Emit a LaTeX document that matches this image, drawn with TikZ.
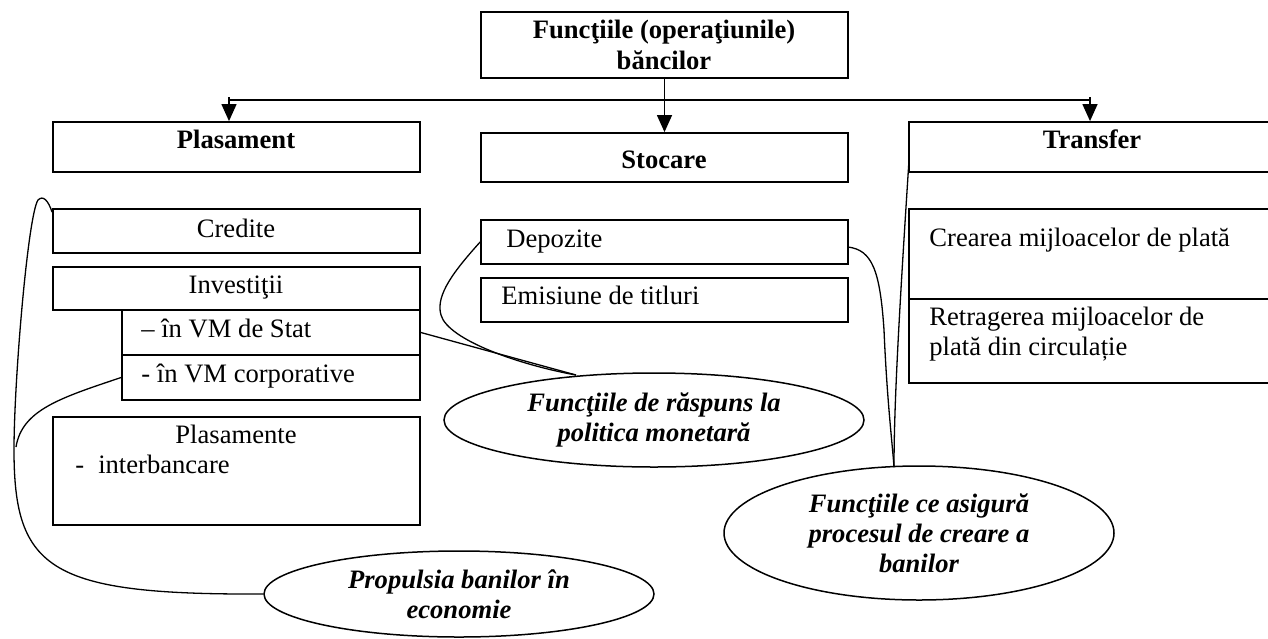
\documentclass[tikz,border=0pt]{standalone}
\usepackage{fontspec}
\setmainfont{Liberation Serif}
\usetikzlibrary{arrows.meta,fit,shapes.geometric}
\begin{document}
\begin{tikzpicture}[x=0.5pt,y=-0.5pt,
  box/.style={draw, line width=0.9pt, inner sep=0pt},
  conn/.style={line width=0.65pt},
  arr/.style={line width=0.65pt, -{Triangle[width=7.5pt,length=8.5pt]}},
  txt/.style={anchor=base, inner sep=0pt, font=\fontsize{13.3}{15}\selectfont},
  ltxt/.style={anchor=base west, inner sep=0pt, font=\fontsize{13.3}{15}\selectfont},
  btxt/.style={anchor=base, inner sep=0pt, font=\fontsize{13.3}{15}\selectfont\bfseries},
  bub/.style={draw, ellipse, line width=0.75pt, inner sep=0pt, align=center,
              font=\fontsize{13.3}{15}\selectfont\bfseries\itshape}]
\useasboundingbox (0,0) rectangle (1268,638);
% boxes
\node[box, fit={(481,12)(848,78)}] (top) {};
\node[btxt] (topt1) at (664,38) {Funcţiile (operaţiunile)};
\node[btxt] (topt2) at (664,69) {băncilor};
\node[box, fit={(53,122)(420,172)}] (plas) {};
\node[btxt] (plast) at (236,148) {Plasament};
\node[box, fit={(481,133)(848,182)}] (sto) {};
\node[btxt] (stot) at (664,168) {Stocare};
\node[box, fit={(909,122)(1290,172)}] (trh) {};
\node[btxt] (trht) at (1092,148) {Transfer};
% Plasament column
\node[box, fit={(53,209)(420,253)}] (cred) {};
\node[txt] (credt) at (236,237) {Credite};
\node[box, fit={(53,267)(420,310)}] (inv) {};
\node[txt] (invt) at (236,293) {Investiţii};
\node[box, fit={(122,310)(420,355)}] (vms) {};
\node[ltxt] (vmst) at (141,337) {– în VM de Stat};
\node[box, fit={(122,355)(420,400)}] (vmc) {};
\node[ltxt] (vmct) at (141,382) {- în VM corporative};
\node[box, fit={(53,417)(420,525)}] (plm) {};
\node[txt] (plmt) at (236,443) {Plasamente};
\node[ltxt] (plmt2) at (75,473) {-\hspace{7pt}interbancare};
% Stocare column
\node[box, fit={(481,220)(848,264)}] (dep) {};
\node[ltxt] (dept) at (506,247) {Depozite};
\node[box, fit={(481,278)(848,322)}] (emi) {};
\node[ltxt] (emit) at (501,304) {Emisiune de titluri};
% Transfer column
\node[box, fit={(909,209)(1290,299)}] (cre) {};
\node[ltxt] (cret) at (929,246) {Crearea mijloacelor de plată};
\node[box, fit={(909,299)(1290,383)}] (ret) {};
\node[ltxt] (rett1) at (929,325) {Retragerea mijloacelor de};
\node[ltxt] (rett2) at (929,355) {plată din circulație};
% ellipses
\node[bub, minimum width=210pt, minimum height=47pt] (e1) at (654,420) {Funcţiile de răspuns la\\politica monetară};
\node[bub, minimum width=195pt, minimum height=67pt] (e2) at (919,533) {Funcţiile ce asigură\\procesul de creare a\\banilor};
\node[bub, minimum width=195pt, minimum height=43pt] (e3) at (459,594) {Propulsia banilor în\\economie};
% arrows
\coordinate (bl) at (229,97);
\coordinate (br) at (1090,97);
\coordinate (bbl) at (229,100);
\coordinate (bbr) at (1090,100);
\draw[conn] (bbl) -- (bbr);
\draw[arr] (top.south) -- (sto.north);
\draw[arr] (bl) -- (bl |- plas.north);
\draw[arr] (br) -- (br |- trh.north);
% connector curves
\coordinate (j1) at (576,375);
\coordinate (j2) at (894,467);
\coordinate (j3) at (16,447);
\draw[conn] ([yshift=-2pt]cred.north west) .. controls (48,200) and (43,195) .. (38,200)
  .. controls (28,215) and (14,380) .. (14,450)
  .. controls (14,570) and (50,595) .. (e3.west);
\draw[conn] (vmc.west) .. controls (60,398) and (22,410) .. (j3);
\draw[conn] (vms.east) -- (j1);
\draw[conn] (dep.west) .. controls (455,270) and (435,295) .. (441,315)
  .. controls (448,340) and (520,365) .. (j1);
\draw[conn] (848,247) .. controls (872,250) and (880,270) .. (884,330)
  .. controls (887,400) and (892,440) .. (j2);
\draw[conn] (909,160) .. controls (900,300) and (894,400) .. (j2);
\end{tikzpicture}
\end{document}
